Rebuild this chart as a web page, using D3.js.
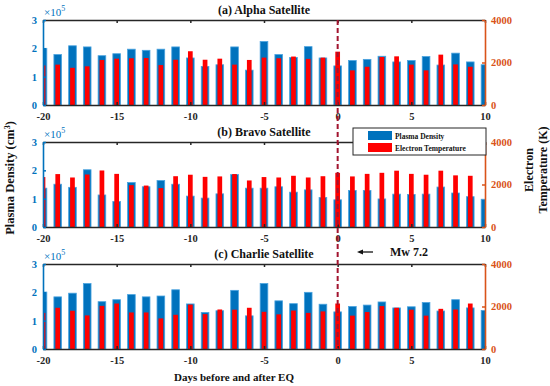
<!DOCTYPE html>
<html lang="en">
<head>
<meta charset="UTF-8" />
<title>Plasma density and electron temperature</title>
<script src="https://cdn.jsdelivr.net/npm/d3@7"></script>
<style>
  body { margin: 0; background: #fff; }
</style>
</head>
<body>
<div id="chart"></div>
<script>
  // days around the earthquake
  const days = [-20,-19,-18,-17,-16,-15,-14,-13,-12,-11,-10,-9,-8,-7,-6,-5,-4,-3,-2,-1,0,1,2,3,4,5,6,7,8,9,10];
  const xTicks = [-20, -15, -10, -5, 0, 5, 10];
  const densityTicks = [0, 1, 2, 3];       // x 10^5
  const tempTicks = [0, 2000, 4000];

  // plasma density (x10^5 cm^-3)
  const alphaDensity = [2.0,1.78,2.09,2.05,1.74,1.81,1.97,1.93,1.97,2.05,1.66,1.36,1.42,2.05,1.23,2.24,1.78,1.68,2.06,1.66,1.38,1.57,1.61,1.72,1.52,1.57,1.71,1.41,1.83,1.52,1.42];
  const bravoDensity = [1.37,1.51,1.40,2.02,1.13,0.90,1.57,1.42,1.64,1.51,1.09,1.02,1.17,1.85,1.37,1.37,1.42,1.23,1.31,1.04,0.96,1.29,1.29,0.99,1.16,1.15,1.16,1.41,1.20,1.07,0.98];
  const charlieDensity = [2.01,1.84,1.97,2.31,1.67,1.74,1.92,1.84,1.87,2.09,1.59,1.29,1.35,2.07,1.17,2.31,1.70,1.60,2.00,1.58,1.31,1.50,1.55,1.66,1.45,1.49,1.64,1.34,1.74,1.45,1.36];

  // electron temperature (K), day 10 has no value
  const alphaTemp = [1860,1900,1750,1820,2120,2180,2200,2210,1880,2130,2530,2130,2180,1900,2120,2230,2200,2280,2170,2230,2510,1630,1800,2260,2290,1900,1630,2370,1910,1800,null];
  const bravoTemp = [2350,2490,2330,2470,2660,2500,1970,1950,1830,2390,2460,2360,2380,2490,2190,2350,2330,2410,2330,2390,2550,2380,2500,2550,2650,2500,2460,2650,2430,2410,null];
  const charlieTemp = [1700,1940,1800,1580,2030,2140,1720,1720,1440,1610,2090,1640,1860,1850,1940,1750,1630,1810,1700,1770,2140,1570,1740,2020,1940,1850,1570,1890,1860,2140,null];

  const titles = ["(a) Alpha Satellite", "(b) Bravo Satellite", "(c) Charlie Satellite"];

  const width = 550, height = 386;
  const blue = "#0072BD", orange = "#D95319";
  const serif = "'Liberation Serif', 'Times New Roman', serif";
  const left = 43, right = 485;
  const panelTops = [20, 142, 264];
  const panelH = 85;

  const panels = [
    { title: titles[0], density: alphaDensity, temp: alphaTemp },
    { title: titles[1], density: bravoDensity, temp: bravoTemp },
    { title: titles[2], density: charlieDensity, temp: charlieTemp }
  ];

  const svg = d3.select("#chart").append("svg")
    .attr("width", width)
    .attr("height", height)
    .attr("font-family", serif);

  const x = d3.scaleLinear().domain([-20, 10]).range([left, right]);
  const step = x(1) - x(0);
  const blueW = step * 0.52, redW = step * 0.32;
  const fmt = d => String(d);   // plain hyphen minus like the original

  function styleText(sel, col) {
    sel.selectAll("text").attr("fill", col).attr("font-size", 10.5)
      .attr("font-weight", "bold").attr("font-family", serif);
  }

  panels.forEach((p, i) => {
    const top = panelTops[i], bottom = top + panelH;
    const yL = d3.scaleLinear().domain([0, 3]).range([bottom, top]);
    const yR = d3.scaleLinear().domain([0, 4000]).range([bottom, top]);

    const g = svg.append("g");

    svg.append("clipPath").attr("id", "clip" + i)
      .append("rect").attr("x", left).attr("y", top).attr("width", right - left).attr("height", panelH);

    const bars = g.append("g").attr("clip-path", `url(#clip${i})`);

    bars.selectAll(".dens").data(days).join("rect")
      .attr("x", (d) => x(d) - blueW / 2)
      .attr("y", (d, j) => yL(p.density[j]))
      .attr("width", blueW)
      .attr("height", (d, j) => bottom - yL(p.density[j]))
      .attr("fill", blue)
      .attr("stroke", "#4aa3df")
      .attr("stroke-width", 0.8);

    bars.selectAll(".temp").data(days.filter((d, j) => p.temp[j] != null)).join("rect")
      .attr("x", (d) => x(d) - redW / 2)
      .attr("y", (d) => yR(p.temp[days.indexOf(d)]))
      .attr("width", redW)
      .attr("height", (d) => bottom - yR(p.temp[days.indexOf(d)]))
      .attr("fill", "#FF0000");

    // bottom axis with labels
    const xb = g.append("g").attr("transform", `translate(0,${bottom})`)
      .call(d3.axisBottom(x).tickValues(xTicks).tickFormat(fmt).tickSizeInner(-3).tickSizeOuter(0).tickPadding(8));
    // top axis, ticks only
    const xt = g.append("g").attr("transform", `translate(0,${top})`)
      .call(d3.axisTop(x).tickValues(xTicks).tickSizeInner(-3).tickSizeOuter(0).tickFormat(""));
    [xb, xt].forEach(a => {
      a.select(".domain").attr("stroke", "#262626").attr("stroke-width", 1.5);
      a.selectAll(".tick line").attr("stroke", "#262626").attr("stroke-width", 1.5);
    });
    styleText(xb, "#262626");

    // left axis
    const yl = g.append("g").attr("transform", `translate(${left},0)`)
      .call(d3.axisLeft(yL).tickValues(densityTicks).tickFormat(fmt).tickSizeInner(-3).tickSizeOuter(0).tickPadding(6));
    yl.select(".domain").attr("stroke", blue).attr("stroke-width", 1.6);
    yl.selectAll(".tick line").attr("stroke", blue).attr("stroke-width", 1.5);
    styleText(yl, blue);

    // right axis
    const yr = g.append("g").attr("transform", `translate(${right},0)`)
      .call(d3.axisRight(yR).tickValues(tempTicks).tickFormat(fmt).tickSizeInner(-3).tickSizeOuter(0).tickPadding(6));
    yr.select(".domain").attr("stroke", orange).attr("stroke-width", 1.6);
    yr.selectAll(".tick line").attr("stroke", orange).attr("stroke-width", 1.5);
    styleText(yr, orange);

    // x10^5 exponent
    const ex = g.append("text").attr("x", left + 1).attr("y", top - 4)
      .attr("fill", blue).attr("font-size", 11);
    ex.append("tspan").text("\u00d710");
    ex.append("tspan").attr("dy", -5).attr("font-size", 8).text("5");

    g.append("text")
      .attr("x", (left + right) / 2).attr("y", top - 6)
      .attr("text-anchor", "middle")
      .attr("font-size", 12).attr("font-weight", "bold").attr("fill", "#111")
      .text(p.title);
  });

  // earthquake day marker
  svg.append("line")
    .attr("x1", x(0)).attr("x2", x(0))
    .attr("y1", panelTops[0]).attr("y2", panelTops[2] + panelH)
    .attr("stroke", "#A2142F").attr("stroke-width", 2)
    .attr("stroke-dasharray", "5,3");

  // legend
  const lg = svg.append("g").attr("transform", "translate(353,128)");
  lg.append("rect").attr("width", 133).attr("height", 27)
    .attr("fill", "#fff").attr("stroke", "#262626").attr("stroke-width", 1);
  const legendItems = [["Plasma Density", blue], ["Electron Temperature", "#FF0000"]];
  legendItems.forEach(([label, col], k) => {
    lg.append("rect").attr("x", 15).attr("y", 3 + k * 12).attr("width", 24).attr("height", 9)
      .attr("fill", col);
    lg.append("text").attr("x", 42).attr("y", 10.5 + k * 12)
      .attr("font-size", 7.5).attr("font-weight", "bold").attr("fill", "#111")
      .text(label);
  });

  // Mw annotation: arrow pointing at the dashed line
  svg.append("line").attr("x1", 373).attr("x2", 360).attr("y1", 252).attr("y2", 252)
    .attr("stroke", "#111").attr("stroke-width", 1.3);
  svg.append("path").attr("d", "M357,252 L363,249.5 L363,254.5 Z").attr("fill", "#111");
  svg.append("text").attr("x", 390).attr("y", 256)
    .attr("font-size", 12).attr("font-weight", "bold").attr("fill", "#111")
    .text("Mw 7.2");

  // axis titles
  const ylab = svg.append("text")
    .attr("transform", "translate(14,178) rotate(-90)")
    .attr("text-anchor", "middle")
    .attr("font-size", 12.5).attr("font-weight", "bold").attr("fill", "#111");
  ylab.append("tspan").text("Plasma Density (cm");
  ylab.append("tspan").attr("dy", -4).attr("font-size", 8).text("3");
  ylab.append("tspan").attr("dy", 4).text(")");

  svg.append("text")
    .attr("transform", "translate(533,170) rotate(-90)")
    .attr("text-anchor", "middle")
    .attr("font-size", 12).attr("font-weight", "bold").attr("fill", "#111")
    .text("Electron");
  svg.append("text")
    .attr("transform", "translate(547,170) rotate(-90)")
    .attr("text-anchor", "middle")
    .attr("font-size", 12).attr("font-weight", "bold").attr("fill", "#111")
    .text("Temperature (K)");

  svg.append("text")
    .attr("x", 234).attr("y", 381)
    .attr("text-anchor", "middle")
    .attr("font-size", 11).attr("font-weight", "bold").attr("fill", "#111")
    .text("Days before and after EQ");
</script>
</body>
</html>
